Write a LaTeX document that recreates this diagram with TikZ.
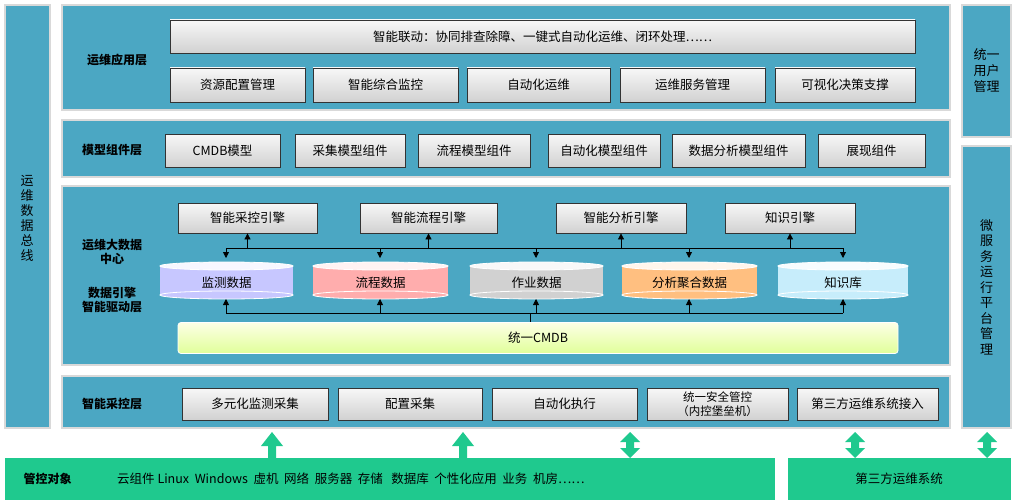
\documentclass[tikz,border=0pt]{standalone}
\usepackage{fontspec}
\setmainfont{Noto Sans CJK SC}
\usetikzlibrary{arrows.meta,shadows}
\definecolor{teal1}{HTML}{4BA7C3}
\definecolor{grn}{HTML}{1FC98E}
\newcommand{\fs}{\fontsize{12.5}{14}\selectfont}
\tikzset{
 panel/.style={draw=white!85!black,line width=2pt,fill=teal1},
 box/.style={draw=black!80,line width=0.8pt,top color=white!97!black,bottom color=black!18,font=\fs,align=center,inner sep=0},
 lab/.style={font=\bfseries\fontsize{12}{14.5}\selectfont,align=center,text=black},
 arr/.style={-{Triangle[length=6pt,width=6pt]},line width=0.8pt},
 item/.style={font=\fs,anchor=west,inner sep=0}
}
\newcommand{\bx}[5]{\node[box,minimum width=#3-#2,minimum height=#5-#4] (#1) at ({(#2+#3)/2},{(#4+#5)/2})}
\newcommand{\cyl}[6]{%
 \fill[#6] (#2,#4) rectangle (#3,#5);
 \fill[#6] ({(#2+#3)/2},#5) ellipse ({(#3-#2)/2} and 4);
 \draw[white,line width=0.8pt] ({(#2+#3)/2},#5) ellipse ({(#3-#2)/2} and 4);
 \fill[white!85!#6] ({(#2+#3)/2},#4) ellipse ({(#3-#2)/2} and 4);
 \draw[white,line width=0.8pt] ({(#2+#3)/2},#4) ellipse ({(#3-#2)/2} and 4);
 \node[font=\fs,inner sep=1pt] (#1) at ({(#2+#3)/2},{(#4+#5)/2+2}) {}}
\begin{document}
\begin{tikzpicture}[x=1pt,y=-1pt]
\useasboundingbox[fill=white] (0,0) rectangle (1016,500);
% side panels
\draw[panel] (5,5) rectangle (50,428);
\node[lab,font=\fontsize{13}{15}\selectfont] (bus) at (27,218) {运\\维\\数\\据\\总\\线};
\draw[panel] (962,5) rectangle (1011,137);
\node[lab,font=\fontsize{13}{16}\selectfont] (um) at (986.5,71) {统一\\用户\\管理};
\draw[panel] (962,146) rectangle (1011,428);
\node[lab,font=\fontsize{13}{15.5}\selectfont] (ms) at (986.5,287) {微\\服\\务\\运\\行\\平\\台\\管\\理};
% layer 1
\draw[panel] (62,5) rectangle (950,110);
\node[lab] (l1) at (117,60) {运维应用层};
\bx{a0}{170}{915}{20}{53} {智能联动：协同排查除障、一键式自动化运维、闭环处理……};
\bx{a1}{170}{305}{68}{102} {资源配置管理};
\bx{a2}{313}{458}{68}{102} {智能综合监控};
\bx{a3}{467}{610}{68}{102} {自动化运维};
\bx{a4}{620}{765}{68}{102} {运维服务管理};
\bx{a5}{775}{915}{68}{102} {可视化决策支撑};
% layer 2
\draw[panel] (62,120) rectangle (950,177);
\node[lab] (l2) at (112,150) {模型组件层};
\bx{m1}{165}{280}{134}{167} {CMDB模型};
\bx{m2}{295}{405}{134}{167} {采集模型组件};
\bx{m3}{418}{530}{134}{167} {流程模型组件};
\bx{m4}{548}{660}{134}{167} {自动化模型组件};
\bx{m5}{672}{805}{134}{167} {数据分析模型组件};
\bx{m6}{818}{925}{134}{167} {展现组件};
% layer 3
\draw[panel] (62,186) rectangle (950,365);
\node[lab] (l3a) at (112,252) {运维大数据\\中心};
\node[lab] (l3b) at (112,300) {数据引擎\\智能驱动层};
\bx{e1}{178}{317}{203}{233} {智能采控引擎};
\bx{e2}{360}{497}{203}{233} {智能流程引擎};
\bx{e3}{556}{686}{203}{233} {智能分析引擎};
\bx{e4}{725}{855}{203}{233} {知识引擎};
\cyl{c1}{160}{293}{266}{295}{blue!22!white}; \node[font=\fs] at (c1) {监测数据};
\cyl{c2}{313}{448}{266}{295}{red!32!white}; \node[font=\fs] at (c2) {流程数据};
\cyl{c3}{470}{603}{266}{295}{black!18!white}; \node[font=\fs] at (c3) {作业数据};
\cyl{c4}{622}{757}{266}{295}{orange!50!white}; \node[font=\fs] at (c4) {分析聚合数据};
\cyl{c5}{778}{908}{266}{295}{cyan!22!white}; \node[font=\fs] at (c5) {知识库};
\node[draw=white,line width=0.8pt,rounded corners=3pt,top color=green!8!yellow!10!white,bottom color=green!30!yellow!40!white,minimum width=720,minimum height=31,font=\fs] (cmdb) at (538,338) {统一CMDB};
\coordinate (tl) at (226,248); \coordinate (tr) at (843,248);
\draw[line width=0.8pt] (tl) -- (tr);
\foreach \e in {e1,e2,e3,e4}{\draw[arr] (\e.south |- tl) -- (\e.south);}
\foreach \x in {226,380,536,689,843}{\draw[arr] (\x,248) -- (\x,258);}
\coordinate (bl) at (226,313); \coordinate (br) at (843,313);
\draw[line width=0.8pt] (bl) -- (br);
\draw[line width=0.8pt] (530,313) -- (cmdb.north -| 530,0);
\foreach \x in {226,380,536,689,843}{\draw[arr] (\x,313) -- (\x,299);}
% layer 4
\draw[panel] (62,376) rectangle (950,428);
\node[lab] (l4) at (112,404) {智能采控层};
\bx{s1}{182}{328}{388}{420} {多元化监测采集};
\bx{s2}{338}{482}{388}{420} {配置采集};
\bx{s3}{492}{637}{388}{420} {自动化执行};
\bx{s4}{647}{788}{388}{420} {\fontsize{11.5}{12.5}\selectfont 统一安全管控\\\fontsize{11.5}{12.5}\selectfont （内控堡垒机）};
\bx{s5}{797}{938}{388}{420} {第三方运维系统接入};
% bottom
\fill[grn] (5,458) rectangle (775,500);
\fill[grn] (788,458) rectangle (1011,500);
\node[lab,anchor=west] (obj) at (20,479) {管控对象};
\node[item] (it) at (117,479) {云组件\ Linux\ \ Windows\ \ 虚机\ \ 网络\ \ 服务器\ \ 存储\ \ \ 数据库\ \ 个性化应用\ \ 业务\ \ 机房……};
\node[font=\fs] (tp) at (899,479) {第三方运维系统};
% fat arrows
\foreach \x in {272,463}{\fill[grn] (\x-4,459) -- (\x-4,446) -- (\x-11,446) -- (\x,432) -- (\x+11,446) -- (\x+4,446) -- (\x+4,459) -- cycle;}
\foreach \x in {630,855,987}{\fill[grn] (\x,432) -- (\x+10,442) -- (\x+4,442) -- (\x+4,448) -- (\x+10,448) -- (\x,458) -- (\x-10,448) -- (\x-4,448) -- (\x-4,442) -- (\x-10,442) -- cycle;}
\end{tikzpicture}
\end{document}
